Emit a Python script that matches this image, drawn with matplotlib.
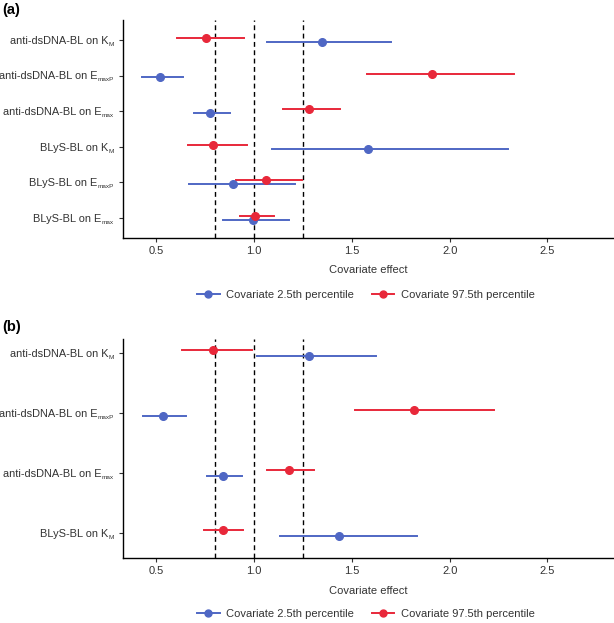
import matplotlib
matplotlib.use("Agg")
import matplotlib.pyplot as plt
from matplotlib.lines import Line2D
from matplotlib.transforms import blended_transform_factory, offset_copy

plt.rcParams['font.family'] = ['Liberation Sans', 'DejaVu Sans']

# ---- data ----
labels_a = [("BLyS-BL on E", "max"),
            ("BLyS-BL on E", "maxP"),
            ("BLyS-BL on K", "M"),
            ("anti-dsDNA-BL on E", "max"),
            ("anti-dsDNA-BL on E", "maxP"),
            ("anti-dsDNA-BL on K", "M")]
low_est_a = [0.993, 0.894, 1.58, 0.776, 0.517, 1.345]
low_lo_a = [0.84, 0.665, 1.093, 0.695, 0.427, 1.065]
low_hi_a = [1.18, 1.21, 2.30, 0.878, 0.636, 1.70]
high_est_a = [1.005, 1.06, 0.79, 1.28, 1.91, 0.755]
high_lo_a = [0.93, 0.91, 0.66, 1.146, 1.575, 0.605]
high_hi_a = [1.10, 1.243, 0.966, 1.44, 2.33, 0.95]

labels_b = [("BLyS-BL on K", "M"),
            ("anti-dsDNA-BL on E", "max"),
            ("anti-dsDNA-BL on E", "maxP"),
            ("anti-dsDNA-BL on K", "M")]
low_est_b = [1.436, 0.841, 0.535, 1.282]
low_lo_b = [1.133, 0.76, 0.432, 1.017]
low_hi_b = [1.834, 0.937, 0.65, 1.624]
high_est_b = [0.841, 1.18, 1.82, 0.791]
high_lo_b = [0.744, 1.068, 1.516, 0.632]
high_hi_b = [0.944, 1.304, 2.227, 0.988]

ref_lines = [0.8, 1.0, 1.25]
xticks = [0.5, 1.0, 1.5, 2.0, 2.5]
xtick_labels = ["0.5", "1.0", "1.5", "2.0", "2.5"]
series_names = ["Covariate 2.5th percentile", "Covariate 97.5th percentile"]

BLUE = "#4F67C4"
RED = "#E8283A"
TXT = "#333333"
FS = 7.9
SUB_FS = 4.6

fig = plt.figure(figsize=(6.14, 6.23), dpi=100)
renderer = fig.canvas.get_renderer()

def panel(rect, labels, le, ll, lh, he, hl, hh, ylim, dodge, tag, tag_y, xlab_y, leg_y):
    ax = fig.add_axes(rect)
    n = len(labels)
    ys = list(range(1, n + 1))
    for x in ref_lines:
        ax.axvline(x, color="black", ls=(0, (3.5, 2.5)), lw=1.0, zorder=1)
    for i, y in enumerate(ys):
        ax.plot([ll[i], lh[i]], [y - dodge] * 2, color=BLUE, lw=1.4, zorder=2)
        ax.plot([le[i]], [y - dodge], 'o', color=BLUE, ms=5.5, zorder=3)
        ax.plot([hl[i], hh[i]], [y + dodge] * 2, color=RED, lw=1.4, zorder=2)
        ax.plot([he[i]], [y + dodge], 'o', color=RED, ms=5.5, zorder=3)
    ax.set_xlim(0.33, 2.84)
    ax.set_ylim(*ylim)
    ax.set_yticks(ys)
    ax.set_yticklabels([""] * n)
    ax.set_xticks(xticks)
    ax.set_xticklabels(xtick_labels, fontsize=8, color=TXT)
    for s in ["top", "right"]:
        ax.spines[s].set_visible(False)
    for s in ["left", "bottom"]:
        ax.spines[s].set_linewidth(1.0)
        ax.spines[s].set_color("black")
    ax.tick_params(length=3, width=0.8, color="#333333", pad=3)

    # y labels with small subscripts
    tr = blended_transform_factory(ax.transAxes, ax.transData)
    cap = 0.716 * FS * 100 / 72.0
    right_px = 9.0
    for y, (main, sub) in zip(ys, labels):
        ts = ax.text(0, y, sub, fontsize=SUB_FS, color=TXT, ha="right", va="baseline",
                     transform=offset_copy(tr, fig, x=-right_px, y=-cap / 2 - 2.0, units="dots"))
        w = ts.get_window_extent(renderer).width
        ax.text(0, y, main, fontsize=FS, color=TXT, ha="right", va="baseline",
                transform=offset_copy(tr, fig, x=-right_px - w - 0.5, y=-cap / 2, units="dots"))

    fig.text(0.003, tag_y, tag, fontsize=10.5, fontweight="bold", va="center", ha="left")
    fig.text(rect[0] + rect[2] / 2, xlab_y, "Covariate effect",
             fontsize=8, ha="center", va="center", color=TXT)
    handles = [Line2D([0], [0], color=BLUE, lw=1.4, marker='o', ms=5),
               Line2D([0], [0], color=RED, lw=1.4, marker='o', ms=5)]
    fig.legend(handles, series_names, loc="center", bbox_to_anchor=(366 / 614, leg_y), ncol=2,
               frameon=False, fontsize=8, handlelength=2.0, columnspacing=1.6,
               handletextpad=0.6, labelcolor=TXT)
    return ax

panel([0.2003, 0.618, 0.7997, 0.350], labels_a, low_est_a, low_lo_a, low_hi_a,
      high_est_a, high_lo_a, high_hi_a, (0.44, 6.56), 0.055, "(a)",
      1 - 10 / 623, 1 - 270 / 623, 1 - 295 / 623)
panel([0.2003, 0.1043, 0.7997, 0.3517], labels_b, low_est_b, low_lo_b, low_hi_b,
      high_est_b, high_lo_b, high_hi_b, (0.58, 4.23), 0.05, "(b)",
      1 - 327 / 623, 1 - 591 / 623, 1 - 614 / 623)

fig.savefig("out.png", dpi=100)
